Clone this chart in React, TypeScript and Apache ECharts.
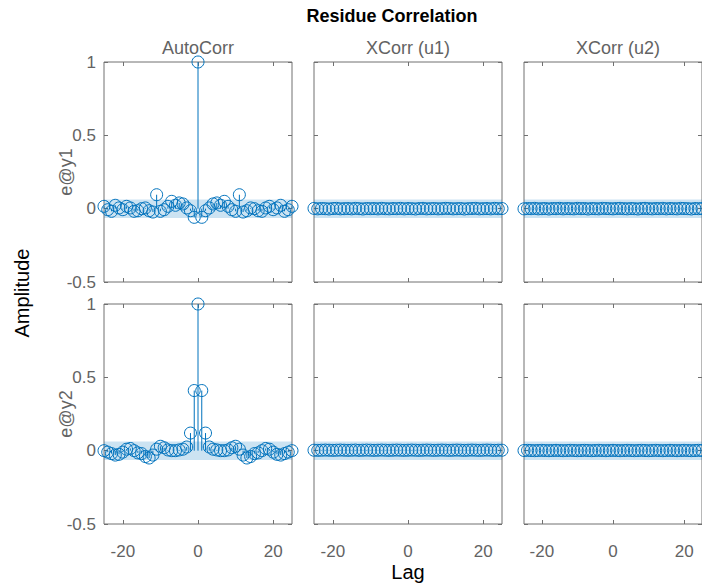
import React, { useEffect, useRef } from "react";
import * as echarts from "echarts";

const LAGS = [
  -25, -24, -23, -22, -21, -20, -19, -18, -17, -16, -15, -14, -13, -12, -11, -10, -9, -8, -7, -6, -5, -4, -3, -2, -1,
  0, 1, 2, 3, 4, 5, 6, 7, 8, 9, 10, 11, 12, 13, 14, 15, 16, 17, 18, 19, 20, 21, 22, 23, 24, 25,
];

const AUTO_Y1 = [
  0.016, -0.007, -0.018, 0.023, 0.005, -0.007, 0.016, 0.005, -0.018, -0.014, 0, 0.005, -0.014, -0.023, 0.095, -0.018,
  -0.007, 0.016, 0.05, 0.023, 0.039, 0.032, 0.005, -0.014, -0.059, 1, -0.059, -0.014, 0.005, 0.032, 0.039, 0.023, 0.05,
  0.016, -0.007, -0.018, 0.095, -0.023, -0.014, 0.005, 0, -0.014, -0.018, 0.005, 0.016, -0.007, 0.005, 0.023, -0.018,
  -0.007, 0.016,
];

const AUTO_Y2 = [
  0.0, -0.01, -0.02, -0.03, -0.025, -0.01, 0.01, 0.015, 0.0, -0.015, -0.02, -0.04, -0.05, -0.03, 0.01, 0.03, 0.02,
  0.005, 0.0, 0.0, 0.005, 0.01, 0.025, 0.12, 0.41, 1, 0.41, 0.12, 0.025, 0.01, 0.005, 0.0, 0.0, 0.005, 0.02, 0.03, 0.01,
  -0.03, -0.05, -0.04, -0.02, -0.015, 0.0, 0.015, 0.01, -0.01, -0.025, -0.03, -0.02, -0.01, 0.0,
];

const XCORR_Y1_U1 = [
  0.002, -0.001, 0.001, 0.0, -0.002, 0.001, 0.002, -0.001, 0.0, 0.001, -0.001, 0.002, 0.0, -0.002, 0.001, 0.0, 0.001,
  -0.001, 0.002, 0.0, -0.001, 0.001, 0.0, 0.002, -0.001, 0.001, 0.0, -0.002, 0.001, 0.002, -0.001, 0.0, 0.001, -0.001,
  0.0, 0.002, 0.001, -0.001, 0.0, 0.001, -0.002, 0.0, 0.001, 0.002, -0.001, 0.0, 0.001, -0.001, 0.002, 0.0, 0.001,
];

const XCORR_Y1_U2 = [
  -0.001, 0.001, 0.0, 0.002, -0.001, 0.0, 0.001, -0.002, 0.001, 0.0, 0.002, -0.001, 0.001, 0.0, -0.001, 0.002, 0.0,
  0.001, -0.002, 0.001, 0.0, -0.001, 0.002, 0.001, 0.0, -0.001, 0.001, 0.002, 0.0, -0.001, 0.001, 0.0, -0.002, 0.001,
  0.002, 0.0, -0.001, 0.001, 0.0, 0.002, -0.001, 0.001, 0.0, -0.001, 0.002, 0.001, 0.0, -0.002, 0.001, 0.0, 0.001,
];

const XCORR_Y2_U1 = [
  0.003, 0.002, 0.003, 0.004, 0.003, 0.002, 0.003, 0.004, 0.003, 0.002, 0.003, 0.004, 0.002, 0.003, 0.004, 0.003, 0.002,
  0.003, 0.004, 0.003, 0.002, 0.003, 0.004, 0.003, 0.002, 0.003, 0.004, 0.003, 0.002, 0.003, 0.004, 0.003, 0.002, 0.003,
  0.004, 0.003, 0.002, 0.003, 0.004, 0.003, 0.002, 0.003, 0.004, 0.003, 0.002, 0.003, 0.004, 0.003, 0.002, 0.003, 0.003,
];

const XCORR_Y2_U2 = [
  0.001, 0.002, 0.001, 0.0, 0.001, 0.002, 0.001, 0.0, 0.001, 0.002, 0.001, 0.0, 0.001, 0.002, 0.001, 0.0, 0.001, 0.002,
  0.001, 0.0, 0.001, 0.002, 0.001, 0.0, 0.001, 0.002, 0.001, 0.0, 0.001, 0.002, 0.001, 0.0, 0.001, 0.002, 0.001, 0.0,
  0.001, 0.002, 0.001, 0.0, 0.001, 0.002, 0.001, 0.0, 0.001, 0.002, 0.001, 0.0, 0.001, 0.002, 0.001,
];

const COLUMN_TITLES = ["AutoCorr", "XCorr (u1)", "XCorr (u2)"];
const ROW_LABELS = ["e@y1", "e@y2"];
const X_TICKS = [-20, 0, 20];
const CONF_BOUND = 0.063;

const PANELS = [
  [AUTO_Y1, XCORR_Y1_U1, XCORR_Y1_U2],
  [AUTO_Y2, XCORR_Y2_U1, XCORR_Y2_U2],
];

const FONT = "'Liberation Sans', Arial, sans-serif";
const BLUE = "#0072BD";
const AXIS_COLOR = "#707070";
const LABEL_COLOR = "#636363";

const GRID_LEFTS = [104, 314, 524];
const GRID_TOPS = [62, 304];
const GRID_W = 188;
const GRID_H = 220;

function buildOption() {
  const grid: any[] = [];
  const xAxis: any[] = [];
  const yAxis: any[] = [];
  const series: any[] = [];
  let axisIdx = 0;
  for (let r = 0; r < 2; r++) {
    for (let c = 0; c < 3; c++) {
      const gi = grid.length;
      grid.push({
        left: GRID_LEFTS[c],
        top: GRID_TOPS[r],
        width: GRID_W,
        height: GRID_H,
        show: true,
        borderColor: AXIS_COLOR,
        borderWidth: 1,
        backgroundColor: "transparent",
      });
      const tick = { show: true, inside: true, length: 4, lineStyle: { color: AXIS_COLOR, width: 1 } };
      const line = { show: false, onZero: false };
      xAxis.push({
        gridIndex: gi,
        type: "value",
        min: -25,
        max: 25,
        position: "bottom",
        axisLine: line,
        splitLine: { show: false },
        axisTick: { ...tick, customValues: X_TICKS },
        axisLabel: {
          show: r === 1,
          customValues: X_TICKS,
          fontSize: 17,
          color: LABEL_COLOR,
          fontFamily: FONT,
          margin: 19,
        },
      });
      xAxis.push({
        gridIndex: gi,
        type: "value",
        min: -25,
        max: 25,
        position: "top",
        axisLine: line,
        splitLine: { show: false },
        axisTick: { ...tick, customValues: X_TICKS },
        axisLabel: { show: false, customValues: X_TICKS },
      });
      yAxis.push({
        gridIndex: gi,
        type: "value",
        min: -0.5,
        max: 1,
        interval: 0.5,
        position: "left",
        axisLine: line,
        splitLine: { show: false },
        axisTick: tick,
        axisLabel: {
          show: c === 0,
          fontSize: 17,
          color: LABEL_COLOR,
          fontFamily: FONT,
          margin: 8,
        },
      });
      yAxis.push({
        gridIndex: gi,
        type: "value",
        min: -0.5,
        max: 1,
        interval: 0.5,
        position: "right",
        axisLine: line,
        splitLine: { show: false },
        axisTick: tick,
        axisLabel: { show: false },
      });
      const xi = axisIdx * 2;
      const yi = axisIdx * 2;
      axisIdx++;
      const vals = PANELS[r][c];
      const data = LAGS.map((l, i) => [l, vals[i]]);
      series.push({
        type: "custom",
        xAxisIndex: xi,
        yAxisIndex: yi,
        z: 2,
        silent: true,
        data,
        renderItem: (_p: any, api: any) => {
          const x = api.value(0);
          const y = api.value(1);
          const p0 = api.coord([x, 0]);
          const p1 = api.coord([x, y]);
          return {
            type: "line",
            shape: { x1: p0[0], y1: p0[1], x2: p1[0], y2: p1[1] },
            style: { stroke: BLUE, lineWidth: 1 },
          };
        },
        markArea: {
          silent: true,
          itemStyle: { color: "rgba(0,114,189,0.2)" },
          data: [[{ xAxis: -25, yAxis: -CONF_BOUND }, { xAxis: 25, yAxis: CONF_BOUND }]],
        },
      });
      series.push({
        type: "scatter",
        xAxisIndex: xi,
        yAxisIndex: yi,
        z: 3,
        silent: true,
        clip: false,
        symbol: "circle",
        symbolSize: 12,
        itemStyle: { color: "rgba(0,0,0,0)", borderColor: BLUE, borderWidth: 1, opacity: 1 },
        data,
      });
    }
  }

  const graphic: any[] = [
    {
      type: "text",
      x: 392,
      y: 16,
      style: {
        text: "Residue Correlation",
        font: `bold 18px ${FONT}`,
        fill: "#000",
        textAlign: "center",
        textVerticalAlign: "middle",
      },
    },
    {
      type: "text",
      x: 408,
      y: 572,
      style: { text: "Lag", font: `20px ${FONT}`, fill: "#000", textAlign: "center", textVerticalAlign: "middle" },
    },
    {
      type: "text",
      x: 22,
      y: 293,
      rotation: Math.PI / 2,
      style: {
        text: "Amplitude",
        font: `20px ${FONT}`,
        fill: "#000",
        textAlign: "center",
        textVerticalAlign: "middle",
      },
    },
  ];
  COLUMN_TITLES.forEach((t, c) => {
    graphic.push({
      type: "text",
      x: GRID_LEFTS[c] + GRID_W / 2,
      y: 48,
      style: { text: t, font: `18px ${FONT}`, fill: LABEL_COLOR, textAlign: "center", textVerticalAlign: "middle" },
    });
  });
  ROW_LABELS.forEach((t, r) => {
    graphic.push({
      type: "text",
      x: 66,
      y: GRID_TOPS[r] + GRID_H / 2,
      rotation: Math.PI / 2,
      style: { text: t, font: `18px ${FONT}`, fill: LABEL_COLOR, textAlign: "center", textVerticalAlign: "middle" },
    });
  });

  return {
    animation: false,
    backgroundColor: "#fff",
    grid,
    xAxis,
    yAxis,
    series,
    graphic,
  };
}

export default function App() {
  const ref = useRef<HTMLDivElement>(null);
  useEffect(() => {
    if (!ref.current) return;
    const chart = echarts.init(ref.current, undefined, { renderer: "svg" });
    chart.setOption(buildOption() as any);
    return () => chart.dispose();
  }, []);
  return (
    <div
      ref={ref}
      style={{ position: "absolute", left: 0, top: 0, width: 702, height: 583, overflow: "hidden" }}
    />
  );
}
